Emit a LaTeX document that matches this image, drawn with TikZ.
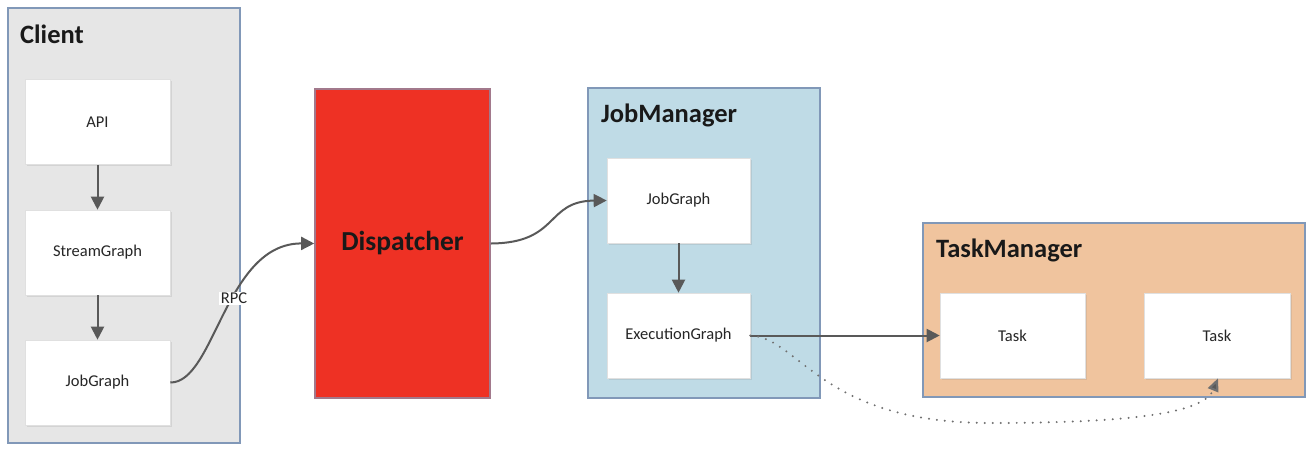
\documentclass[tikz,border=0pt]{standalone}
\usepackage{fontspec}
\setmainfont{Carlito}
\usetikzlibrary{arrows.meta,shadows}
\definecolor{clientfill}{HTML}{E6E6E6}
\definecolor{framecol}{HTML}{8198B8}
\definecolor{dispred}{HTML}{EE3124}
\definecolor{jmfill}{HTML}{BFDBE6}
\definecolor{tmfill}{HTML}{F0C49E}
\definecolor{arrcol}{HTML}{595959}
\definecolor{dotcol}{HTML}{707070}
\tikzset{
  container/.style={draw=framecol, line width=1.6pt, anchor=center, inner sep=0pt},
  inbox/.style={fill=white, draw=black!12, line width=0.6pt, minimum width=145pt, minimum height=85pt,
     inner sep=0pt, font=\fontsize{16.5}{19}\selectfont, text=black!85,
     drop shadow={opacity=0.18, shadow xshift=1.5pt, shadow yshift=-1.5pt}},
  titletext/.style={anchor=base west, inner sep=0pt, font=\bfseries\fontsize{26.5}{31}\selectfont, text=black!90},
  arr/.style={draw=arrcol, line width=2pt, -{Triangle[length=13pt,width=13pt]}},
  dotarr/.style={draw=dotcol, line width=2.2pt, line cap=round, dash pattern=on 0pt off 8pt,
     -{Triangle[length=13pt,width=11pt,fill=arrcol,line cap=butt]}},
}
\begin{document}
\begin{tikzpicture}[x=1pt,y=-1pt]
\useasboundingbox (0,0) rectangle (1316,456);
% containers
\node[container, fill=clientfill, minimum width=232pt, minimum height=435pt] (client) at (124,225.5) {};
\node[container, fill=dispred, draw=framecol!70!dispred, minimum width=175pt, minimum height=309pt,
      font=\bfseries\fontsize{27.5}{31}\selectfont, text=black!90] (disp) at (402.5,243.5) {Dispatcher};
\node[container, fill=jmfill, minimum width=232pt, minimum height=310pt] (jm) at (704,243) {};
\node[container, fill=tmfill, minimum width=382pt, minimum height=174pt] (tm) at (1114,310) {};
% titles
\node[titletext] (tclient) at (20,43) {Client};
\node[titletext] (tjm) at (601,122) {JobManager};
\node[titletext] (ttm) at (936,257) {TaskManager};
% inner boxes
\node[inbox] (api) at (97.5,122) {API};
\node[inbox] (sg) at (97.5,252.5) {StreamGraph};
\node[inbox] (jgc) at (97.5,382.5) {JobGraph};
\node[inbox, minimum width=143pt] (jgm) at (678.5,200.5) {JobGraph};
\node[inbox, minimum width=143pt] (eg) at (678.5,335.5) {ExecutionGraph};
\node[inbox] (t1) at (1012.5,335.5) {Task};
\node[inbox, minimum width=146pt] (t2) at (1217,335.5) {Task};
% connectors
\draw[arr] (jgc.east) .. controls (215,383) and (225,243) .. (disp.west)
   node[pos=0.57, fill=white, inner sep=1.5pt, font=\fontsize{16.5}{19}\selectfont, text=black!85] (rpc) {RPC};
\draw[arr] (api) -- (sg);
\draw[arr] (sg) -- (jgc);
\draw[arr] (disp.east) .. controls (560,243) and (545,201) .. (jgm.west);
\draw[arr] (jgm) -- (eg);
\draw[arr] (eg.east) -- (t1.west);
\coordinate (dmid) at (990,423);
\draw[dotarr] (eg.east) .. controls (800,338) and (820,423) .. (dmid)
   .. controls (1150,423) and (1205,410) .. ([xshift=1pt]t2.south);
\end{tikzpicture}
\end{document}
